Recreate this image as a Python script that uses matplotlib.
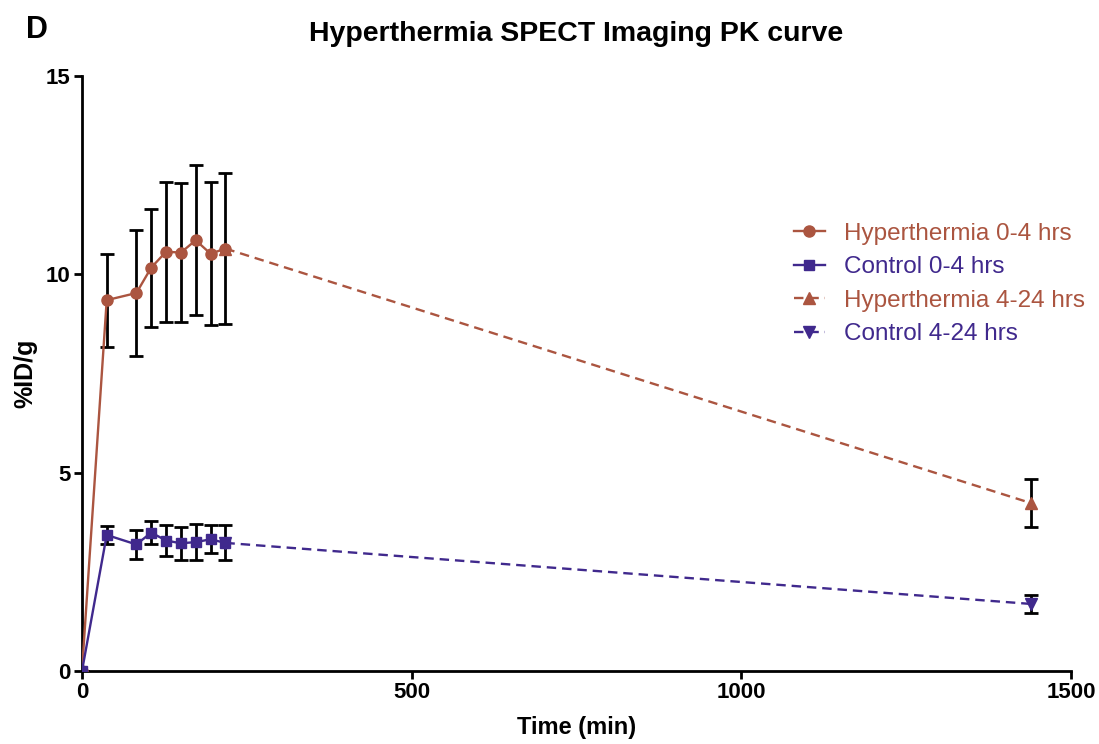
import matplotlib
matplotlib.use('Agg')
import matplotlib.pyplot as plt

plt.rcParams['font.family'] = ['Liberation Sans', 'DejaVu Sans']

# early imaging frames (min)
t_early = [0, 37.5, 82.5, 105, 127.5, 150, 172.5, 195, 217.5]
hyper_early = [0, 9.35, 9.53, 10.17, 10.57, 10.55, 10.86, 10.52, 10.65]
hyper_early_err = [0, 1.17, 1.58, 1.49, 1.76, 1.75, 1.89, 1.8, 1.9]
ctrl_early = [0, 3.43, 3.19, 3.49, 3.29, 3.22, 3.25, 3.32, 3.23]
ctrl_early_err = [0, 0.22, 0.37, 0.29, 0.38, 0.41, 0.45, 0.35, 0.44]

# late timepoint
t_late = [217.5, 1440]
hyper_late = [10.65, 4.23]
hyper_late_err = [0, 0.6]
ctrl_late = [3.23, 1.69]
ctrl_late_err = [0, 0.22]

red = '#AB5540'
purple = '#40298D'

fig = plt.figure(figsize=(10.99, 7.44), dpi=100)
ax = fig.add_axes([0.0746, 0.0981, 0.8999, 0.7997])

ekw = dict(ecolor='black', elinewidth=2, capsize=5.3, capthick=2)

ax.errorbar(t_early, hyper_early, yerr=hyper_early_err, fmt='none', zorder=2, **ekw)
ax.errorbar(t_early, ctrl_early, yerr=ctrl_early_err, fmt='none', zorder=2, **ekw)
ax.errorbar(t_late[1:], hyper_late[1:], yerr=hyper_late_err[1:], fmt='none', zorder=2, **ekw)
ax.errorbar(t_late[1:], ctrl_late[1:], yerr=ctrl_late_err[1:], fmt='none', zorder=2, **ekw)

ax.plot(t_early, hyper_early, '-o', color=red, lw=1.7, ms=8, zorder=4,
        label='Hyperthermia 0-4 hrs')
ax.plot(t_early, ctrl_early, '-s', color=purple, lw=1.7, ms=7.5, zorder=5,
        label='Control 0-4 hrs')
ax.plot(t_late, hyper_late, '--^', color=red, lw=1.7, ms=8, zorder=3,
        dashes=(4, 2.5), label='Hyperthermia 4-24 hrs')
ax.plot(t_late, ctrl_late, '--v', color=purple, lw=1.7, ms=8, zorder=3,
        dashes=(4, 2.5), label='Control 4-24 hrs')

ax.set_xlim(0, 1500)
ax.set_ylim(0, 15)
ax.set_xticks([0, 500, 1000, 1500])
ax.set_yticks([0, 5, 10, 15])
for s in ['top', 'right']:
    ax.spines[s].set_visible(False)
for s in ['left', 'bottom']:
    ax.spines[s].set_linewidth(2)
ax.tick_params(width=2, length=6, labelsize=16, pad=2)
for lab in ax.get_xticklabels() + ax.get_yticklabels():
    lab.set_fontweight('bold')
ax.patch.set_visible(False)
for sp in ax.spines.values():
    sp.set_clip_on(False)

ax.set_xlabel('Time (min)', fontsize=17, fontweight='bold', labelpad=9)
ax.set_ylabel('%ID/g', fontsize=18, fontweight='bold', labelpad=6)
fig.text(0.5246, 0.954, 'Hyperthermia SPECT Imaging PK curve', ha='center', va='center',
         fontsize=20.5, fontweight='bold')
fig.text(0.024, 0.960, 'D', ha='left', va='center', fontsize=22, fontweight='bold')

leg = ax.legend(loc='upper left', bbox_to_anchor=(0.698, 0.79), frameon=False,
                fontsize=17.5, handlelength=1.25, handletextpad=0.8, labelspacing=0.47)
for txt, c in zip(leg.get_texts(), [red, purple, red, purple]):
    txt.set_color(c)

fig.savefig('out.png', dpi=100)
